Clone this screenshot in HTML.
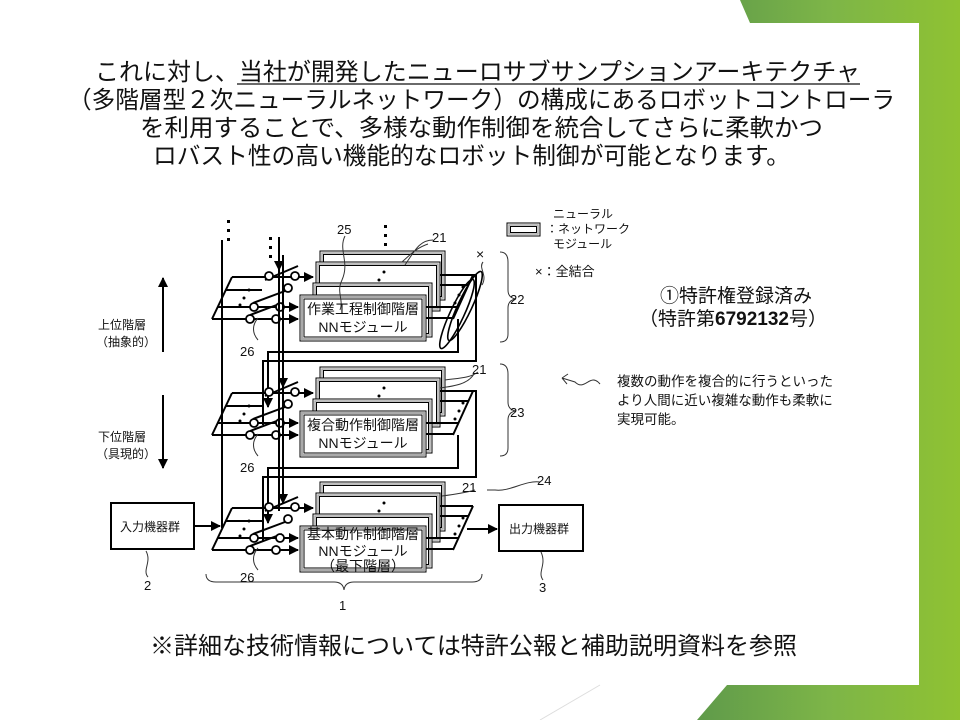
<!DOCTYPE html>
<html><head><meta charset="utf-8"><style>
html,body{margin:0;padding:0;background:#fff;}
svg{display:block;font-family:"Liberation Sans","Noto Sans CJK JP",sans-serif;}
</style></head><body>
<svg width="960" height="720" viewBox="0 0 960 720" xmlns="http://www.w3.org/2000/svg">
<defs>
<linearGradient id="gr" x1="0" y1="0" x2="1" y2="0">
<stop offset="0" stop-color="#5f9a4a"/><stop offset="0.5" stop-color="#7db548"/><stop offset="1" stop-color="#8fc232"/>
</linearGradient>
<marker id="ah" viewBox="0 0 10 10" refX="9" refY="5" markerWidth="5" markerHeight="5" orient="auto"><path d="M0,0L10,5L0,10z" fill="#000"/></marker>
<g id="mods">
 <rect x="320" y="-44" width="125" height="49" fill="#fff" stroke="#000" stroke-width="1"/>
 <rect x="322" y="-42" width="121" height="45" fill="none" stroke="#aaa" stroke-width="1.5"/>
 <rect x="323.5" y="-40.5" width="118" height="42" fill="none" stroke="#000" stroke-width="1"/>
 <rect x="316" y="-33" width="124" height="49" fill="#fff" stroke="#000" stroke-width="1"/>
 <rect x="318" y="-31" width="120" height="45" fill="none" stroke="#aaa" stroke-width="1.5"/>
 <rect x="319.5" y="-29.5" width="117" height="42" fill="none" stroke="#000" stroke-width="1"/>
 <circle cx="384" cy="-23" r="1.5"/><circle cx="379" cy="-15" r="1.5"/>
 <rect x="313" y="-12" width="119" height="54" fill="#fff" stroke="#000" stroke-width="1"/>
 <rect x="315" y="-10" width="115" height="50" fill="none" stroke="#aaa" stroke-width="1.5"/>
 <rect x="316.5" y="-8.5" width="112" height="47" fill="none" stroke="#000" stroke-width="1"/>
 <rect x="300" y="0" width="126" height="46" fill="#fff" stroke="#000" stroke-width="1"/>
 <rect x="302" y="2" width="122" height="42" fill="none" stroke="#aaa" stroke-width="2"/>
 <rect x="304" y="4" width="118" height="38" fill="none" stroke="#000" stroke-width="1"/>
 <g stroke="#000" stroke-width="2" fill="none">
  <line x1="232" y1="-18" x2="313" y2="-18" marker-end="url(#ah)"/>
  <line x1="232" y1="-18" x2="212" y2="24"/>
  <line x1="212" y1="24" x2="298" y2="24" marker-end="url(#ah)"/>
  <line x1="218" y1="12" x2="298" y2="12" marker-end="url(#ah)"/>
  <line x1="226" y1="-5" x2="262" y2="-5"/>
  <line x1="440" y1="-20" x2="473" y2="-20"/>
  <line x1="440" y1="-10" x2="468" y2="-10"/>
  <line x1="426" y1="12" x2="458" y2="12"/>
  <line x1="426" y1="23" x2="453" y2="23"/>
  <line x1="473" y1="-20" x2="453" y2="24"/>
  <line x1="265" y1="-15" x2="298" y2="-29"/>
  <line x1="253" y1="8" x2="285" y2="-4"/>
  <line x1="250" y1="20" x2="282" y2="8"/>
 </g>
 <g fill="#fff" stroke="#000" stroke-width="1.8">
  <circle cx="269" cy="-19" r="4"/><circle cx="295" cy="-19" r="4"/>
  <circle cx="288" cy="-7" r="4"/>
  <circle cx="254" cy="12" r="4"/><circle cx="280" cy="12" r="4"/>
  <circle cx="250" cy="24" r="4"/><circle cx="276" cy="24" r="4"/>
 </g>
 <circle cx="249" cy="-5" r="1.5"/><circle cx="244" cy="3" r="1.5"/><circle cx="240" cy="10" r="1.5"/>
 <circle cx="463" cy="-8" r="1.5"/><circle cx="459" cy="0" r="1.5"/><circle cx="455" cy="8" r="1.5"/>
</g>
<g id="fb" stroke="#000" stroke-width="2" fill="none">
 <polyline points="458,24 458,57 268,57 268,112" marker-end="url(#ah)"/>
 <polyline points="473,-20 476,-20 476,66 263,66 263,130"/>
 <polyline points="279,-40 279,100" />
 <polyline points="283,-40 283,92" marker-end="url(#ah)"/>
</g>
</defs>

<polygon points="740,0 960,0 960,720 697,720 727,685 919,685 919,23 750,23" fill="url(#gr)"/>
<line x1="600" y1="685" x2="540" y2="720" stroke="#ddd" stroke-width="1"/>

<g font-size="24" fill="#111">
<text x="95" y="80" textLength="765" lengthAdjust="spacingAndGlyphs">これに対し、当社が開発したニューロサブサンプションアーキテクチャ</text>
<line x1="237" y1="84" x2="860" y2="84" stroke="#111" stroke-width="1.3"/>
<text x="68" y="108" textLength="827" lengthAdjust="spacingAndGlyphs">（多階層型２次ニューラルネットワーク）の構成にあるロボットコントローラ</text>
<text x="140" y="136" textLength="683" lengthAdjust="spacingAndGlyphs">を利用することで、多様な動作制御を統合してさらに柔軟かつ</text>
<text x="153" y="164" textLength="637" lengthAdjust="spacingAndGlyphs">ロバスト性の高い機能的なロボット制御が可能となります。</text>
<text x="150" y="654" textLength="647" lengthAdjust="spacingAndGlyphs">※詳細な技術情報については特許公報と補助説明資料を参照</text>
</g>

<g transform="translate(0,295)"><use href="#mods"/><use href="#fb"/></g>
<g transform="translate(0,411)"><use href="#mods"/><use href="#fb"/></g>
<g transform="translate(0,526)"><use href="#mods"/></g>

<g stroke="#000" stroke-width="2" fill="none">
 <line x1="222" y1="240" x2="222" y2="528"/>
 <line x1="279" y1="237" x2="279" y2="270" marker-end="url(#ah)"/>
 <line x1="283" y1="260" x2="283" y2="272"/>
 <line x1="194" y1="526" x2="220" y2="526" marker-end="url(#ah)"/>
 <line x1="467" y1="529" x2="497" y2="529" marker-end="url(#ah)"/>
 <rect x="111" y="503" width="83" height="46"/>
 <rect x="499" y="505" width="84" height="46"/>
 <line x1="163" y1="352" x2="163" y2="278" marker-end="url(#ah)"/>
 <line x1="163" y1="395" x2="163" y2="468" marker-end="url(#ah)"/>
</g>
<g stroke="#000" stroke-width="1.6" fill="none">
 <ellipse cx="465" cy="306" rx="7" ry="38" transform="rotate(25 465 306)"/>
 <ellipse cx="457" cy="314" rx="7" ry="38" transform="rotate(25 457 314)"/>
</g>
<g fill="#000">
 <rect x="227" y="220" width="3" height="3"/><rect x="227" y="229" width="3" height="3"/><rect x="227" y="238" width="3" height="3"/>
 <rect x="269" y="237" width="3" height="3"/><rect x="269" y="246" width="3" height="3"/><rect x="269" y="255" width="3" height="3"/>
 <rect x="384" y="225" width="3" height="3"/><rect x="384" y="234" width="3" height="3"/><rect x="384" y="243" width="3" height="3"/>
</g>
<g stroke="#333" stroke-width="1" fill="none">
 <path d="M345,236 C338,250 350,262 342,280 C336,292 344,300 340,310"/>
 <path d="M433,240 C420,240 415,250 405,265"/>
 <path d="M428,244 C416,248 410,255 402,262"/>
 <path d="M478,372 C470,378 460,378 445,380"/>
 <path d="M474,374 C468,384 455,386 440,388"/>
 <path d="M475,490 C468,492 458,494 442,496"/>
 <path d="M540,482 C525,480 510,492 495,490 L487,490"/>
 <path d="M258,340 C252,333 252,325 258,318"/>
 <path d="M258,456 C252,449 252,441 258,434"/>
 <path d="M258,570 C252,563 252,555 258,548"/>
 <path d="M148,577 C142,570 152,562 146,551"/>
 <path d="M543,580 C537,572 547,565 541,552"/>
 <path d="M483,262 C478,268 488,275 482,285"/>
 <path d="M500,252 Q508,252 508,262 L508,290 Q508,298 516,299 Q508,300 508,308 L508,334 Q508,342 500,342"/>
 <path d="M500,364 Q508,364 508,374 L508,402 Q508,410 516,411 Q508,412 508,420 L508,448 Q508,456 500,456"/>
 <path d="M206,574 Q206,582 216,582 L334,582 Q343,582 344,590 Q345,582 354,582 L472,582 Q482,582 482,574"/>
 <path d="M600,384 C590,372 585,392 575,382 L562,378 M562,378 L568,374 M562,378 L567,384"/>
</g>
<rect x="507" y="223" width="33" height="13" fill="#fff" stroke="#000" stroke-width="1"/>
<rect x="509" y="225" width="29" height="9" fill="none" stroke="#aaa" stroke-width="1.5"/>
<rect x="510.5" y="226.5" width="26" height="6" fill="none" stroke="#000" stroke-width="1"/>

<g font-size="12" fill="#111">
 <text x="553" y="218">ニューラル</text>
 <text x="546" y="233">：ネットワーク</text>
 <text x="553" y="248">モジュール</text>
 <text x="535" y="276" font-size="13">×：全結合</text>
 <text x="476" y="259" font-size="14">×</text>
 <text x="337" y="234" font-size="13">25</text>
 <text x="432" y="242" font-size="13">21</text>
 <text x="472" y="374" font-size="13">21</text>
 <text x="462" y="492" font-size="13">21</text>
 <text x="537" y="485" font-size="13">24</text>
 <text x="510" y="304" font-size="13">22</text>
 <text x="510" y="417" font-size="13">23</text>
 <text x="240" y="356" font-size="13">26</text>
 <text x="240" y="472" font-size="13">26</text>
 <text x="240" y="582" font-size="13">26</text>
 <text x="144" y="590" font-size="13">2</text>
 <text x="539" y="592" font-size="13">3</text>
 <text x="339" y="610" font-size="13">1</text>
 <text x="98" y="329">上位階層</text>
 <text x="96" y="346">（抽象的）</text>
 <text x="98" y="441">下位階層</text>
 <text x="96" y="458">（具現的）</text>
 <text x="120" y="531">入力機器群</text>
 <text x="509" y="533">出力機器群</text>
</g>
<g font-size="14" fill="#111" text-anchor="middle">
 <text x="363" y="314">作業工程制御階層</text>
 <text x="363" y="332">NNモジュール</text>
 <text x="363" y="430">複合動作制御階層</text>
 <text x="363" y="448">NNモジュール</text>
 <text x="363" y="539">基本動作制御階層</text>
 <text x="363" y="556">NNモジュール</text>
 <text x="363" y="571">（最下階層）</text>
</g>
<g font-size="19" fill="#111" text-anchor="middle">
 <text x="736" y="302">①特許権登録済み</text>
 <text x="733" y="325">（特許第<tspan font-weight="bold">6792132</tspan>号）</text>
</g>
<g font-size="13.5" fill="#111">
 <text x="617" y="386">複数の動作を複合的に行うといった</text>
 <text x="617" y="405">より人間に近い複雑な動作も柔軟に</text>
 <text x="617" y="424">実現可能。</text>
</g>
</svg>
</body></html>
